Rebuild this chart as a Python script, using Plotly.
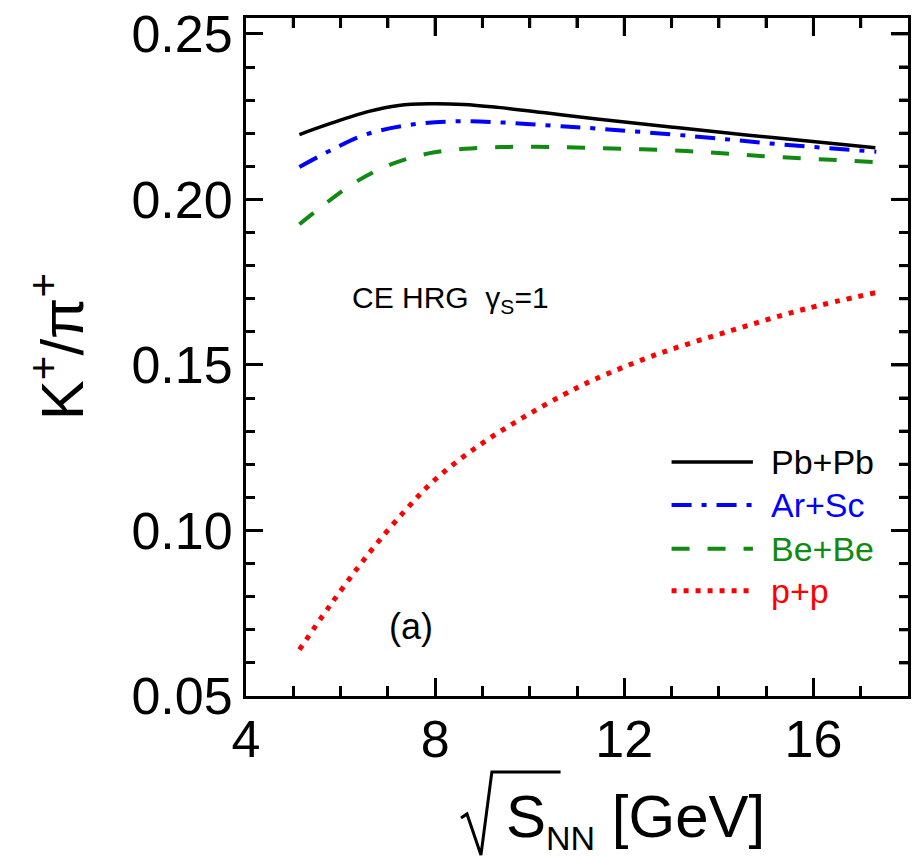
import plotly.graph_objects as go

# ---- data ----
x_pb = [5.13, 5.76, 6.60, 7.23, 7.86, 8.60, 9.33, 10.37, 11.42, 13.10, 15.19, 17.31]
y_pb = [0.2196, 0.2228, 0.2266, 0.2284, 0.2289, 0.2287, 0.2278, 0.2261, 0.2243, 0.2217, 0.2186, 0.2156]

x_ar = [5.13, 5.83, 6.53, 7.51, 8.49, 9.47, 10.44, 11.42, 13.45, 15.33, 17.33]
y_ar = [0.2098, 0.2151, 0.2196, 0.2226, 0.2236, 0.2232, 0.2223, 0.2214, 0.2191, 0.2166, 0.2144]

x_be = [5.13, 5.48, 6.29, 7.05, 7.86, 8.63, 9.39, 10.16, 10.97, 13.31, 15.26, 17.31]
y_be = [0.1925, 0.1965, 0.2050, 0.2105, 0.2139, 0.2153, 0.2158, 0.2159, 0.2157, 0.2146, 0.2128, 0.2113]

x_pp = [5.13, 5.76, 6.60, 7.37, 8.00, 8.91, 9.81, 10.69, 11.35, 12.71, 14.29, 15.82, 17.31]
y_pp = [0.0640, 0.0770, 0.0931, 0.1061, 0.1154, 0.1255, 0.1337, 0.1408, 0.1455, 0.1533, 0.1605, 0.1669, 0.1718]

series_names = ["Pb+Pb", "Ar+Sc", "Be+Be", "p+p"]
x_ticks = [4, 8, 12, 16]
y_ticks = [0.05, 0.10, 0.15, 0.20, 0.25]
x_minor = [5, 6, 7, 9, 10, 11, 13, 14, 15, 17]
y_minor = [0.06, 0.07, 0.08, 0.09, 0.11, 0.12, 0.13, 0.14, 0.16, 0.17, 0.18, 0.19,
           0.21, 0.22, 0.23, 0.24]

# ---- styles ----
FONT = "Liberation Sans, Arial, Helvetica, sans-serif"
colors = ["#000000", "#0000ff", "#108a10", "#ff0000"]
dashes = ["solid", "20px,10px,5px,10px", "18px,18px", "5px,7px"]
widths = [3.5, 4, 4, 5]
X_RANGE = [4, 18]
Y_RANGE = [0.05, 0.2548]
W, H = 916, 858
MARGIN = dict(l=246, r=5, t=18, b=162)
PLOT_W = W - MARGIN["l"] - MARGIN["r"]
PLOT_H = H - MARGIN["t"] - MARGIN["b"]
MAJOR_LEN, MINOR_LEN = 17, 9

fig = go.Figure()
for xs, ys, name, c, d, w in zip([x_pb, x_ar, x_be, x_pp], [y_pb, y_ar, y_be, y_pp],
                                 series_names, colors, dashes, widths):
    fig.add_trace(go.Scatter(x=xs, y=ys, mode="lines", name=name,
                             line=dict(color=c, dash=d, width=w, shape="spline", smoothing=1.0),
                             showlegend=False))

fig.update_layout(
    xaxis=dict(range=X_RANGE, tickvals=x_ticks, ticks="inside", ticklen=MAJOR_LEN + 1, tickwidth=3,
               tickcolor="black", showline=True, linecolor="black", linewidth=3,
               mirror="ticks", showgrid=False, zeroline=False,
               minor=dict(tickvals=x_minor, ticklen=MINOR_LEN + 1,
                          ticks="inside", tickwidth=3, tickcolor="black", showgrid=False),
               ticklabelstandoff=-4,
               tickfont=dict(family=FONT, size=52, color="black")),
    yaxis=dict(range=Y_RANGE, tickvals=y_ticks, tickformat=".2f", ticks="inside", ticklen=MAJOR_LEN,
               tickwidth=3, tickcolor="black", showline=True, linecolor="black", linewidth=3,
               mirror="ticks", showgrid=False, zeroline=False,
               minor=dict(tickvals=y_minor, ticklen=MINOR_LEN,
                          ticks="inside", tickwidth=3, tickcolor="black", showgrid=False),
               tickfont=dict(family=FONT, size=52, color="black")),
)

# ---- frame ticks on the top and right edges, drawn as one trace through the axis scales ----
dy_per_px = (Y_RANGE[1] - Y_RANGE[0]) / PLOT_H
dx_per_px = (X_RANGE[1] - X_RANGE[0]) / PLOT_W
tx, ty = [], []
for xv in x_ticks[1:] + x_minor:
    ln = MAJOR_LEN + 1 if xv in x_ticks else MINOR_LEN + 1
    tx += [xv, xv, None]
    ty += [Y_RANGE[1], Y_RANGE[1] - ln * dy_per_px, None]
for yv in y_ticks[1:] + y_minor:
    ln = MAJOR_LEN if yv in y_ticks else MINOR_LEN
    tx += [X_RANGE[1], X_RANGE[1] - ln * dx_per_px, None]
    ty += [yv, yv, None]
fig.add_trace(go.Scatter(x=tx, y=ty, mode="lines", line=dict(color="black", width=3),
                         showlegend=False, hoverinfo="skip", cliponaxis=False))

# ---- manual legend (sample lines + coloured labels) ----
leg_x0, leg_x1, leg_tx = 13.0, 14.72, 15.05
leg_y = [0.1207, 0.1077, 0.0945, 0.0818]
for name, c, d, w, yy in zip(series_names, colors, dashes, widths, leg_y):
    fig.add_shape(type="line", xref="x", yref="y", x0=leg_x0, x1=leg_x1, y0=yy, y1=yy,
                  line=dict(color=c, dash=d, width=w))
    fig.add_annotation(x=leg_tx, y=yy, xref="x", yref="y", text=name, showarrow=False,
                       xanchor="left", yanchor="middle",
                       font=dict(family=FONT, size=34, color=c))

# ---- in-plot labels ----
fig.add_annotation(x=8.32, y=0.1698, xref="x", yref="y", showarrow=False,
                   text="CE HRG  γ<sub>S</sub>=1", font=dict(family=FONT, size=30, color="black"))
fig.add_annotation(x=7.48, y=0.0710, xref="x", yref="y", showarrow=False,
                   text="(a)", font=dict(family=FONT, size=36, color="black"))

# ---- axis titles ----
fig.add_annotation(x=-0.285, y=0.515, xref="paper", yref="paper", showarrow=False,
                   textangle=-90, xanchor="center", yanchor="middle",
                   text="K<sup>+</sup>/π<sup>+</sup>", font=dict(family=FONT, size=60, color="black"))

fig.add_annotation(x=0.3895, y=-0.183, xref="paper", yref="paper", showarrow=False,
                   xanchor="left", yanchor="middle",
                   text="S<sub><span style='font-size:34px'>NN</span></sub> [GeV]",
                   font=dict(family=FONT, size=60, color="black"))
# radical sign for sqrt(S_NN)
fig.add_shape(type="path", xref="paper", yref="paper",
              path="M 0.3248 -0.1800 L 0.3338 -0.1740 L 0.3549 -0.2345 L 0.3714 -0.1121 L 0.4752 -0.1121",
              line=dict(color="black", width=3))

fig.update_layout(
    width=W, height=H,
    margin=MARGIN,
    paper_bgcolor="white", plot_bgcolor="white",
    showlegend=False,
)

fig.write_html("out.html")
